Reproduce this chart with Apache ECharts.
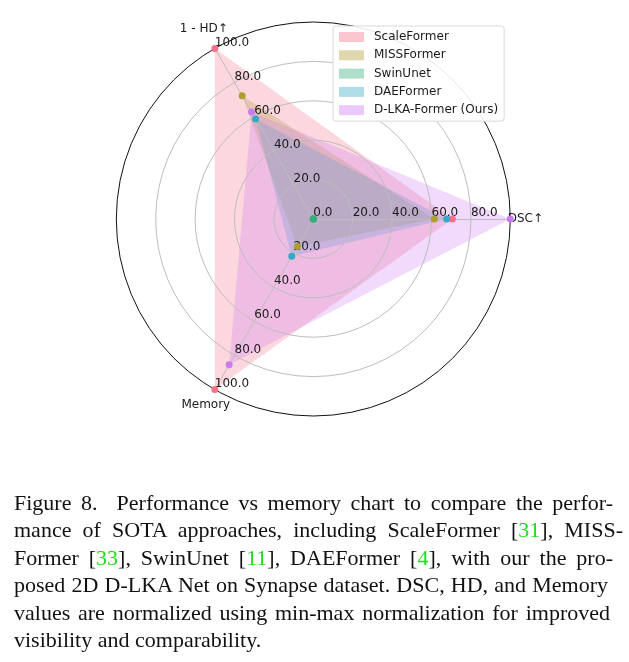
<!DOCTYPE html>
<html>
<head>
<meta charset="utf-8">
<script src="https://cdn.jsdelivr.net/npm/echarts@6/dist/echarts.min.js"></script>
<style>
  html, body { margin: 0; padding: 0; background: #fff; }
  #wrap { position: relative; width: 629px; height: 662px; overflow: hidden; }
  #chart { position: absolute; left: 0; top: 0; width: 629px; height: 662px; }
  #caption { position: absolute; left: 14px; top: 489px; font-family: 'Liberation Serif', 'Times New Roman', serif; font-size: 22px; line-height: 27.4px; color: #111; }
  #caption div { white-space: nowrap; text-align: justify; text-align-last: justify; }
  #caption div.last { text-align: left; text-align-last: left; }
  .cite { color: #1fdc1f; }
</style>
</head>
<body>
<div id="wrap">
  <div id="chart"></div>
  <div id="caption">
    <div style="width:599px">Figure 8.&nbsp; Performance vs memory chart to compare the perfor-</div>
    <div style="width:609px">mance of SOTA approaches, including ScaleFormer [<span class="cite">31</span>], MISS-</div>
    <div style="width:599px">Former [<span class="cite">33</span>], SwinUnet [<span class="cite">11</span>], DAEFormer [<span class="cite">4</span>], with our the pro-</div>
    <div style="width:594px">posed 2D D-LKA Net on Synapse dataset. DSC, HD, and Memory</div>
    <div style="width:596px">values are normalized using min-max normalization for improved</div>
    <div class="last">visibility and comparability.</div>
  </div>
</div>
<script>
// ---- data ----
const axisNames = ['DSC\u2191', '1 - HD\u2191', 'Memory'];
const seriesNames = ['ScaleFormer', 'MISSFormer', 'SwinUnet', 'DAEFormer', 'D-LKA-Former (Ours)'];
const scaleFormer = [70.6, 100, 100];
const missFormer = [61.4, 72.2, 16.1];
const swinUnet = [0, 0, 0];
const daeFormer = [67.7, 58.6, 21.9];
const dlkaFormer = [100, 62.7, 85.4];
const radialTicks = [0, 20, 40, 60, 80, 100];

const values = [scaleFormer, missFormer, swinUnet, daeFormer, dlkaFormer];
const colors = ['#f77189', '#ae9d31', '#33b07a', '#38a9c5', '#cc7af4'];

function hexToRgba(hex, a) {
  const n = parseInt(hex.slice(1), 16);
  return 'rgba(' + ((n >> 16) & 255) + ',' + ((n >> 8) & 255) + ',' + (n & 255) + ',' + a + ')';
}

const FONT = 'DejaVu Sans';
const rMin = radialTicks[0], rMax = radialTicks[radialTicks.length - 1];
const fmt = v => Number(v).toFixed(1);
const labelBase = { show: true, formatter: fmt, align: 'left', verticalAlign: 'bottom', margin: 0, color: '#1a1a1a', fontSize: 12, fontFamily: FONT };
const nameGaps = [15, 22, 18];

const fillSeries = values.map((v, i) => ({
  type: 'radar',
  name: seriesNames[i],
  z: 1,
  symbol: 'none',
  lineStyle: { width: 0, opacity: 0 },
  itemStyle: { color: colors[i] },
  areaStyle: { color: hexToRgba(colors[i], 0.4) },
  emphasis: { disabled: true },
  silent: true,
  data: [{ name: seriesNames[i], value: v }]
}));
const markerSeries = values.map((v, i) => ({
  type: 'radar',
  name: seriesNames[i],
  z: 3,
  symbol: 'circle',
  symbolSize: 7,
  itemStyle: { color: colors[i] },
  lineStyle: { width: 0, opacity: 0 },
  emphasis: { disabled: true },
  silent: true,
  data: [{ name: seriesNames[i], value: v }]
}));

const chart = echarts.init(document.getElementById('chart'), null, { renderer: 'canvas' });
chart.setOption({
  animation: false,
  backgroundColor: '#fff',
  legend: {
    z: 10,
    orient: 'vertical',
    left: 333, top: 26,
    padding: [4, 6, 4, 6],
    itemWidth: 25, itemHeight: 10, itemGap: 4.3,
    icon: 'rect',
    backgroundColor: 'rgba(255,255,255,0.9)',
    borderColor: '#d9d9d9', borderWidth: 1, borderRadius: 3,
    textStyle: { fontSize: 12, fontFamily: FONT, color: '#1a1a1a', lineHeight: 14, padding: [0, 0, 0, 5] },
    data: seriesNames.map((n, i) => ({ name: n, itemStyle: { color: hexToRgba(colors[i], 0.4), borderWidth: 0 } })),
    selectedMode: false
  },
  radar: {
    z: 2,
    center: [313.3, 219],
    radius: 197,
    startAngle: 0,
    shape: 'circle',
    splitNumber: radialTicks.length - 1,
    indicator: axisNames.map((n, i) => ({
      name: n, min: rMin, max: rMax,
      nameGap: nameGaps[i],
      axisLabel: Object.assign({}, labelBase, i === 0 ? { showMaxLabel: false } : { showMinLabel: false })
    })),
    axisName: { color: '#1a1a1a', fontSize: 12, fontFamily: FONT, align: 'center', verticalAlign: 'middle' },
    axisLine: { show: true, lineStyle: { color: '#bdbdbd', width: 1 } },
    axisTick: { show: false },
    splitLine: { show: true, lineStyle: { color: ['#bdbdbd', '#bdbdbd', '#bdbdbd', '#bdbdbd', '#bdbdbd', '#111'], width: 1 } },
    splitArea: { show: false }
  },
  series: fillSeries.concat(markerSeries)
});
</script>
</body>
</html>
